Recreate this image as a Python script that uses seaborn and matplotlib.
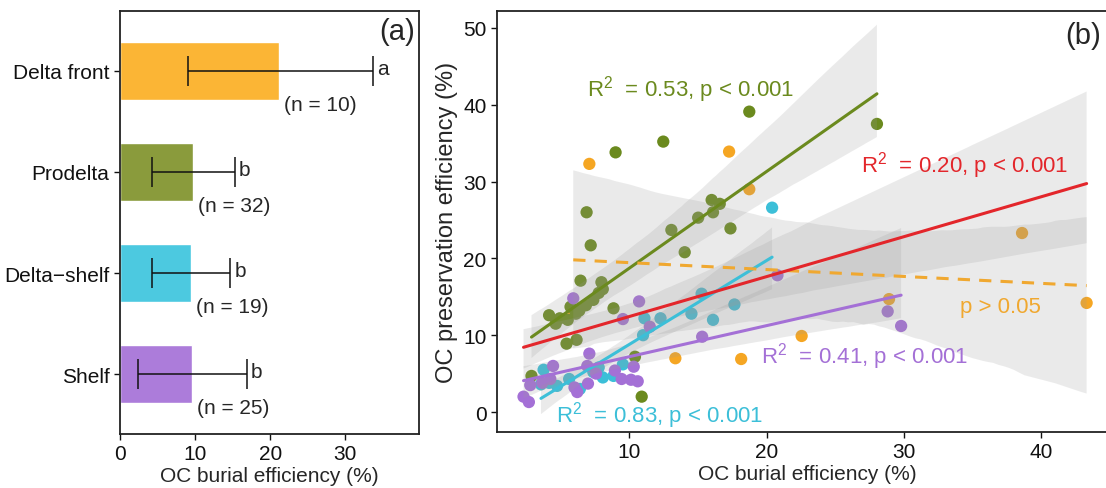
import numpy as np
import pandas as pd
import matplotlib
matplotlib.use("Agg")
import matplotlib.pyplot as plt
import seaborn as sns

# ---------------- data ----------------
categories = ["Delta front", "Prodelta", "Delta\u2212shelf", "Shelf"]
bar_mean = [21.1, 9.7, 9.4, 9.55]
err_lo = [9.0, 4.3, 4.2, 2.4]
err_hi = [33.7, 15.3, 14.7, 16.9]
letters = ["a", "b", "b", "b"]
n_counts = [10, 32, 19, 25]

front_x = [7.10, 17.27, 18.74, 43.29, 38.59, 28.91, 22.55, 18.15, 13.36, 5.93]
front_y = [32.3, 33.9, 29.0, 14.2, 23.3, 14.7, 9.9, 6.9, 7.0, 13.0]

prodelta_x = [9.01, 12.48, 18.74, 28.03, 6.90, 7.20, 13.07, 15.02, 16.00, 16.59, 16.10, 17.37,
              14.04, 6.46, 7.98, 8.08, 7.78, 5.73, 6.85, 6.37, 4.17, 4.95, 5.53, 8.86,
              5.44, 6.17, 2.89, 10.42, 10.91, 6.12, 7.39, 4.65]
prodelta_y = [33.8, 35.2, 39.1, 37.5, 26.0, 21.7, 23.7, 25.3, 27.6, 27.1, 26.0, 23.9,
              20.8, 17.1, 16.9, 16.0, 15.5, 13.7, 13.9, 13.2, 12.6, 12.2, 12.0, 13.5,
              8.9, 9.4, 4.7, 7.2, 2.0, 12.8, 14.6, 11.5]

dshelf_x = [20.40, 15.27, 17.66, 14.53, 16.10, 12.28, 11.11, 11.01, 3.77, 7.39, 9.54, 8.86,
            4.75, 4.17, 6.41, 3.58, 5.63, 7.78, 8.08]
dshelf_y = [26.6, 15.4, 14.0, 12.8, 12.0, 12.2, 12.2, 10.0, 5.5, 5.2, 6.2, 4.7,
            3.4, 3.8, 3.0, 3.6, 4.3, 5.8, 4.5]

shelf_x = [20.79, 28.81, 29.79, 15.31, 11.50, 5.93, 10.72, 9.54, 7.10, 4.46, 6.95, 8.96, 10.33,
           2.80, 3.68, 6.02, 6.22, 7.00, 9.45, 10.13, 10.62, 2.31, 2.70, 4.26, 7.59]
shelf_y = [17.8, 13.1, 11.2, 9.8, 11.1, 14.8, 14.4, 12.1, 7.6, 6.0, 6.0, 5.4, 5.9,
           3.5, 3.8, 3.2, 2.6, 3.7, 4.3, 4.2, 4.0, 2.0, 1.3, 4.3, 5.0]

annot_texts = ["$\\mathregular{R^2}$  = 0.53, p < 0.001",
               "$\\mathregular{R^2}$  = 0.20, p < 0.001",
               "p > 0.05",
               "$\\mathregular{R^2}$  = 0.41, p < 0.001",
               "$\\mathregular{R^2}$  = 0.83, p < 0.001"]
annot_x = [6.90, 26.85, 34.09, 19.62, 4.65]
annot_y = [42.1, 32.2, 13.7, 7.3, -0.3]

# ---------------- style ----------------
bar_colors = ["#FBB535", "#8A9B3C", "#4CC9E0", "#AC7CDA"]
pt_colors = ["#F5A623", "#6B8A1E", "#3CBFD8", "#A470D6"]
red = "#E3262B"
annot_colors = ["#6B8A1E", red, "#F0A830", "#A470D6", "#3CBFD8"]

sns.set_theme(style="ticks")
plt.rcParams["font.family"] = ["Liberation Sans", "DejaVu Sans"]
plt.rcParams["mathtext.fontset"] = "custom"
plt.rcParams["mathtext.rm"] = "Liberation Sans"
plt.rcParams["mathtext.it"] = "Liberation Sans:italic"
plt.rcParams["axes.edgecolor"] = "#222222"
plt.rcParams["axes.linewidth"] = 1.3

W, H = 1106, 489
fig = plt.figure(figsize=(W / 100, H / 100), dpi=100)
ax1 = fig.add_axes([120 / W, 54 / H, 299 / W, 423 / H])
ax2 = fig.add_axes([497 / W, 56 / H, 620 / W, 421 / H])

# ---------------- panel (a) ----------------
bar_df = pd.DataFrame({"env": categories, "mean": bar_mean})
sns.barplot(data=bar_df, x="mean", y="env", hue="env", palette=bar_colors,
            width=0.58, saturation=1, errorbar=None, legend=False, ax=ax1)
ypos = np.arange(len(categories))
m = np.array(bar_mean)
ax1.errorbar(m, ypos, xerr=[m - np.array(err_lo), np.array(err_hi) - m], fmt="none",
             ecolor="#111111", elinewidth=1.1, capsize=11, capthick=1.1, zorder=5)
for i in range(len(categories)):
    ax1.text(err_hi[i] + 0.5, ypos[i] - 0.02, letters[i], ha="left", va="center", fontsize=15)
    ax1.text(bar_mean[i] + 0.7, ypos[i] + 0.33, f"(n = {n_counts[i]})", ha="left",
             va="center", fontsize=15)
ax1.set_xlim(0, 39.8)
ax1.set_ylim(3.594, -0.594)
ax1.set_xticks([0, 10, 20, 30])
ax1.set_xlabel("OC burial efficiency (%)", fontsize=15, labelpad=2)
ax1.set_ylabel("")
ax1.tick_params(axis="both", labelsize=15, length=4, width=1, colors="#111111",
                labelcolor="#111111")
ax1.text(0.985, 0.985, "(a)", transform=ax1.transAxes, ha="right", va="top", fontsize=21)

# ---------------- panel (b) ----------------
groups = ["Delta front", "Prodelta", "Delta-shelf", "Shelf"]
xs = [front_x, prodelta_x, dshelf_x, shelf_x]
ys = [front_y, prodelta_y, dshelf_y, shelf_y]
df = pd.concat([pd.DataFrame({"x": xx, "y": yy, "g": g}) for xx, yy, g in zip(xs, ys, groups)],
               ignore_index=True)
sns.scatterplot(data=df, x="x", y="y", hue="g", palette=dict(zip(groups, pt_colors)),
                s=78, linewidth=0, legend=False, ax=ax2, zorder=2)


def add_fit(x, y, color, ls="-", dashes=None):
    lk = dict(lw=2.2, zorder=4, linestyle=ls)
    if dashes is not None:
        lk["dashes"] = dashes
    before = len(ax2.collections)
    sns.regplot(x=np.array(x), y=np.array(y), scatter=False, color=color, ci=95,
                n_boot=2000, seed=3, truncate=True, line_kws=lk, ax=ax2)
    for c in ax2.collections[before:]:
        c.set_facecolor("#9a9a9a")
        c.set_alpha(0.2)
        c.set_edgecolor("none")
        c.set_zorder(3)


add_fit(prodelta_x, prodelta_y, pt_colors[1])
add_fit(dshelf_x, dshelf_y, pt_colors[2])
add_fit(shelf_x, shelf_y, pt_colors[3])
add_fit(front_x, front_y, "#F0A830", ls="--", dashes=(4, 3))
add_fit(df["x"], df["y"], red)

for t, xx, yy, c in zip(annot_texts, annot_x, annot_y, annot_colors):
    ax2.text(xx, yy, t, color=c, fontsize=16, ha="left", va="center")

ax2.set_xlim(0.38, 45.5)
ax2.set_ylim(-2.6, 52.2)
ax2.set_xticks([10, 20, 30, 40])
ax2.set_yticks([0, 10, 20, 30, 40, 50])
ax2.set_xlabel("OC burial efficiency (%)", fontsize=15, labelpad=2)
ax2.set_ylabel("OC preservation efficiency (%)", fontsize=17, labelpad=4)
ax2.spines["right"].set_visible(False)
ax2.tick_params(axis="both", labelsize=15, length=4, width=1, colors="#111111",
                labelcolor="#111111")
ax2.text(44.3, 50.9, "(b)", ha="right", va="top", fontsize=21)

fig.savefig("out.png", dpi=100)
